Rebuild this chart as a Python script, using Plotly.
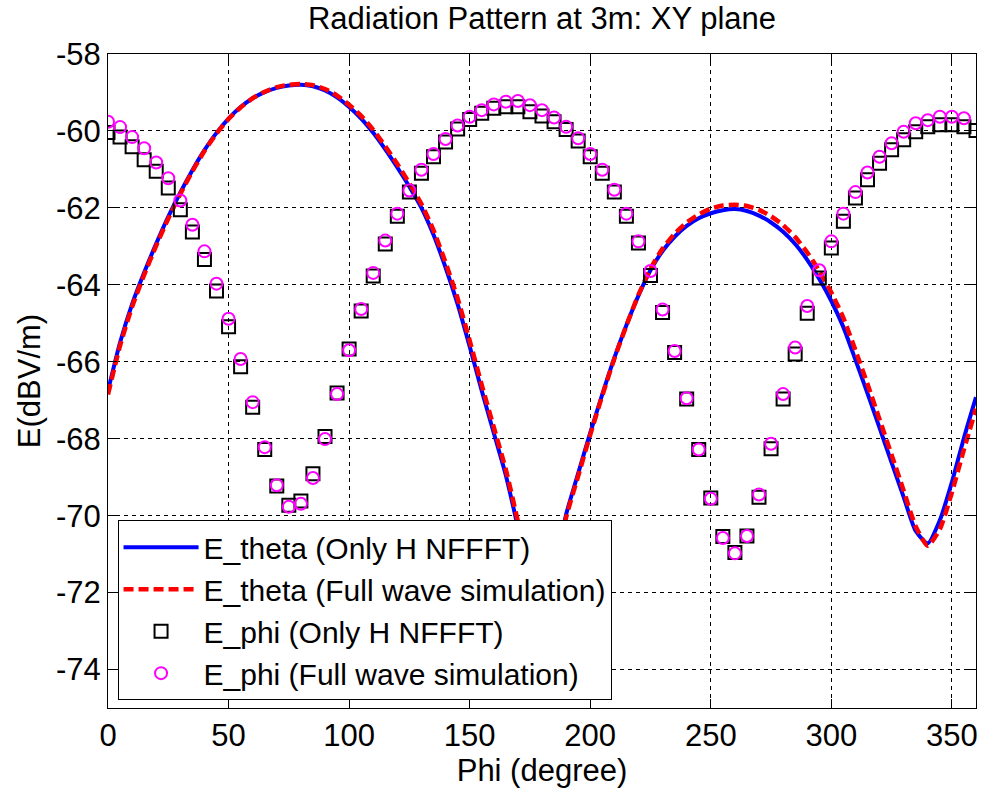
import plotly.graph_objects as go

# Azimuth angles (degrees)
phi_line = list(range(0, 361, 5))
phi_h = list(range(0, 361, 5))
phi_fw = list(range(0, 356, 5))

# E_theta, near-field to far-field transform from H only (dBV/m)
e_theta_h = [
    -66.75, -65.50, -64.50, -63.68, -62.93, -62.23, -61.60, -61.02, -60.50, -60.05,
    -59.68, -59.38, -59.15, -58.99, -58.88, -58.82, -58.80, -58.84, -58.95, -59.13,
    -59.38, -59.68, -60.05, -60.48, -60.95, -61.45, -62.00, -62.70, -63.55, -64.50,
    -65.60, -66.75, -67.85, -68.95, -70.30, -71.70, -72.80, -71.50, -69.97, -68.90,
    -67.85, -66.85, -65.90, -65.05, -64.28, -63.62, -63.12, -62.75, -62.47, -62.27,
    -62.14, -62.06, -62.03, -62.08, -62.20, -62.38, -62.62, -62.94, -63.35, -63.85,
    -64.42, -65.10, -65.95, -66.82, -67.72, -68.62, -69.52, -70.40, -70.72, -70.12,
    -69.13, -67.98, -66.92,
]

# E_theta, full wave simulation (dBV/m)
e_theta_fw = [
    -66.85, -65.58, -64.57, -63.74, -62.98, -62.28, -61.64, -61.05, -60.52, -60.07,
    -59.69, -59.39, -59.15, -58.98, -58.86, -58.80, -58.78, -58.81, -58.91, -59.08,
    -59.32, -59.61, -59.97, -60.40, -60.86, -61.36, -61.90, -62.58, -63.42, -64.35,
    -65.45, -66.60, -67.70, -68.80, -70.15, -71.60, -72.90, -71.65, -70.05, -68.97,
    -67.90, -66.88, -65.92, -65.06, -64.26, -63.58, -63.06, -62.67, -62.38, -62.17,
    -62.02, -61.94, -61.92, -61.95, -62.05, -62.22, -62.45, -62.76, -63.16, -63.64,
    -64.20, -64.86, -65.70, -66.58, -67.50, -68.42, -69.35, -70.28, -70.78, -70.35,
    -69.40, -68.28, -67.22,
]

# E_phi, near-field to far-field transform from H only (dBV/m)
e_phi_h = [
    -60.04, -60.16, -60.41, -60.75, -61.05, -61.48, -62.05, -62.63, -63.34, -64.16,
    -65.09, -66.13, -67.18, -68.28, -69.23, -69.73, -69.62, -68.91, -67.94, -66.81,
    -65.67, -64.68, -63.77, -62.94, -62.22, -61.59, -61.10, -60.67, -60.29, -59.95,
    -59.70, -59.54, -59.41, -59.37, -59.37, -59.50, -59.61, -59.76, -59.96, -60.26,
    -60.67, -61.10, -61.59, -62.22, -62.91, -63.76, -64.72, -65.76, -66.97, -68.28,
    -69.54, -70.54, -70.96, -70.53, -69.52, -68.26, -66.97, -65.80, -64.74, -63.82,
    -63.04, -62.35, -61.74, -61.27, -60.84, -60.49, -60.23, -60.02, -59.89, -59.84,
    -59.84, -59.89, -59.99,
]

# E_phi, full wave simulation (dBV/m)
e_phi_fw = [
    -59.76, -59.90, -60.16, -60.45, -60.82, -61.23, -61.81, -62.44, -63.13, -63.97,
    -64.88, -65.93, -67.05, -68.22, -69.21, -69.77, -69.69, -69.02, -68.01, -66.84,
    -65.70, -64.63, -63.69, -62.85, -62.15, -61.55, -61.01, -60.60, -60.21, -59.86,
    -59.63, -59.46, -59.31, -59.24, -59.22, -59.33, -59.46, -59.65, -59.89, -60.19,
    -60.60, -61.01, -61.53, -62.15, -62.87, -63.64, -64.64, -65.72, -66.95, -68.28,
    -69.56, -70.58, -70.98, -70.53, -69.45, -68.13, -66.84, -65.63, -64.55, -63.62,
    -62.87, -62.15, -61.59, -61.08, -60.67, -60.32, -60.02, -59.80, -59.72, -59.63,
    -59.63, -59.67,
]

x_ticks = list(range(0, 351, 50))
y_ticks = list(range(-74, -57, 2))

FONT = "Liberation Sans, Arial, sans-serif"
FS = 31

fig = go.Figure()
fig.add_trace(go.Scatter(
    x=phi_line, y=e_theta_h, mode="lines", name="E_theta (Only H NFFFT)",
    line=dict(color="#0000ff", width=4, shape="spline", smoothing=0.6),
))
fig.add_trace(go.Scatter(
    x=phi_line, y=e_theta_fw, mode="lines", name="E_theta (Full wave simulation)",
    line=dict(color="#ff0000", width=4.5, dash="10px,5px", shape="spline", smoothing=0.6),
))
fig.add_trace(go.Scatter(
    x=phi_h, y=e_phi_h, mode="markers", name="E_phi (Only H NFFFT)",
    marker=dict(symbol="square-open", size=13, color="black", line=dict(width=2, color="black")),
))
fig.add_trace(go.Scatter(
    x=phi_fw, y=e_phi_fw, mode="markers", name="E_phi (Full wave simulation)",
    marker=dict(symbol="circle-open", size=12, color="#ff00ff", line=dict(width=2, color="#ff00ff")),
))

axis_common = dict(
    showline=True, linecolor="black", linewidth=1, mirror="ticks",
    ticks="inside", ticklen=9, tickcolor="black", tickwidth=1,
    showgrid=True, gridcolor="black", gridwidth=1, griddash="4px,4px",
    zeroline=False, tickfont=dict(family=FONT, size=FS, color="black"),
)

fig.update_xaxes(
    range=[0, 360], tickvals=x_ticks, ticktext=[str(v) for v in x_ticks],
    title=dict(text="Phi (degree)", font=dict(family=FONT, size=FS, color="black"), standoff=4),
    **axis_common,
)
fig.update_yaxes(
    range=[-75, -58], tickvals=y_ticks, ticktext=[str(v) for v in y_ticks],
    title=dict(text="E(dBV/m)", font=dict(family=FONT, size=FS, color="black"), standoff=6),
    **axis_common,
)

fig.update_layout(
    width=983, height=790,
    margin=dict(l=108, r=5, t=54, b=82),
    paper_bgcolor="white", plot_bgcolor="white",
    font=dict(family=FONT, size=FS, color="black"),
    title=dict(text="Radiation Pattern at 3m: XY plane", x=0.5, xref="paper",
               y=1 - 18 / 790, yref="container", yanchor="middle",
               font=dict(family=FONT, size=FS, color="black")),
    legend=dict(
        x=0.011, y=0.012, xanchor="left", yanchor="bottom",
        bgcolor="white", bordercolor="black", borderwidth=1,
        font=dict(family=FONT, size=30, color="black"),
        tracegroupgap=0, itemwidth=75,
    ),
    showlegend=True,
)

fig.write_html("out.html")
